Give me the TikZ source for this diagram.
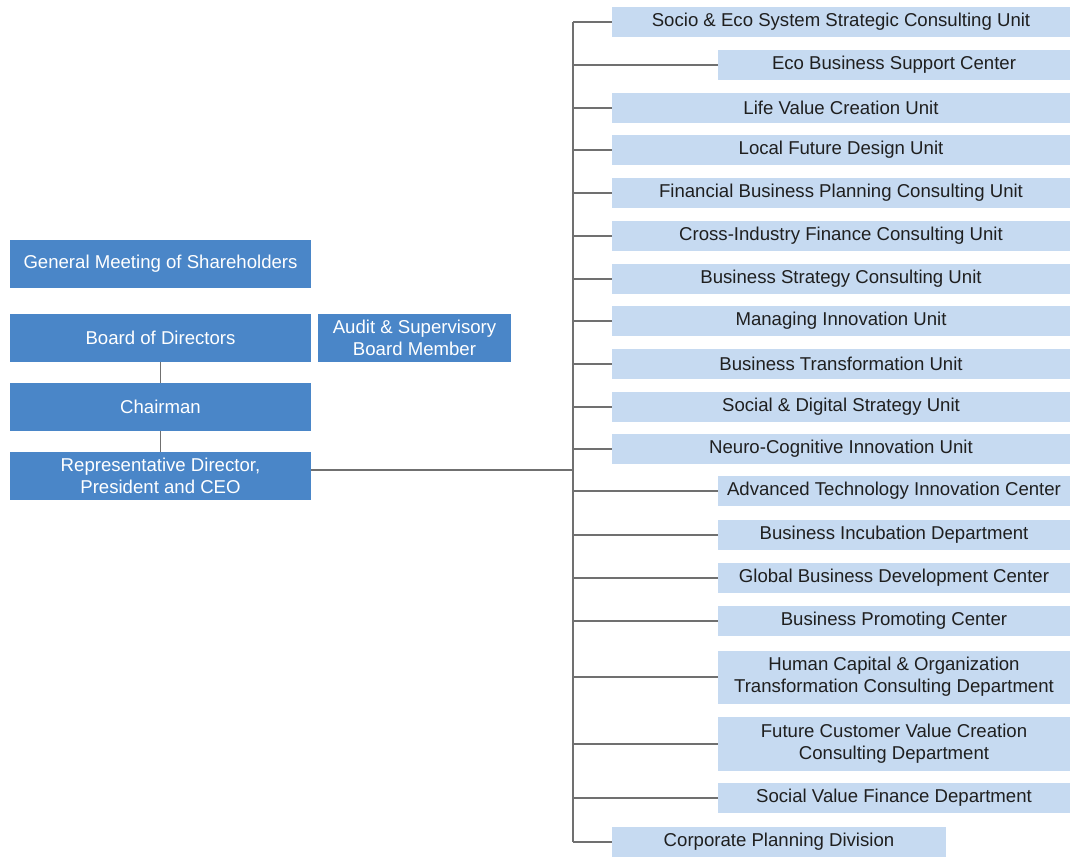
\documentclass[tikz,border=0pt]{standalone}
\usepackage{fontspec}
\setmainfont{Liberation Sans}
\usetikzlibrary{positioning}
\definecolor{orgblue}{RGB}{74,134,200}
\definecolor{unitblue}{RGB}{198,218,241}
\definecolor{linkgray}{RGB}{112,112,112}

\begin{document}
\begin{tikzpicture}[x=1pt,y=-1pt,font=\fontsize{18.6}{22}\selectfont,
  topbox/.style={fill=orgblue,text=white,minimum width=301pt,minimum height=48pt,inner sep=0pt,align=center},
  unit/.style={fill=unitblue,text=black!88,minimum height=30pt,inner sep=0pt,align=center},
  longunit/.style={unit,minimum width=458pt},
  shortunit/.style={unit,minimum width=352pt},
  link/.style={draw=linkgray,line width=1.1pt}]
  \useasboundingbox (0,0) rectangle (1070,857);
  % governance column
  \node[topbox] (gms) at (160.5,264) {General Meeting of Shareholders};
  \node[topbox] (board) at (160.5,338) {Board of Directors};
  \node[topbox,minimum width=193pt] (audit) at (414.5,338) {Audit \& Supervisory\\Board Member};
  \node[topbox] (chair) at (160.5,407) {Chairman};
  \node[topbox] (ceo) at (160.5,476) {Representative Director,\\President and CEO};
  \draw[link] (board) -- (chair);
  \draw[link] (chair) -- (ceo);
  % trunk
  \coordinate (trunktop) at (573,22);
  \coordinate (trunkbot) at (573,842);
  \draw[link] (trunktop) -- (trunkbot);
  \draw[link] ([yshift=6pt]ceo.east) -- ([yshift=6pt]ceo.east -| trunktop);
  % units
  \node[longunit] (socio) at (841,22) {Socio \& Eco System Strategic Consulting Unit};
  \node[shortunit] (ecobiz) at (894,65) {Eco Business Support Center};
  \node[longunit] (lifeval) at (841,108) {Life Value Creation Unit};
  \node[longunit] (localfut) at (841,150) {Local Future Design Unit};
  \node[longunit] (finplan) at (841,193) {Financial Business Planning Consulting Unit};
  \node[longunit] (crossind) at (841,236) {Cross-Industry Finance Consulting Unit};
  \node[longunit] (bizstrat) at (841,279) {Business Strategy Consulting Unit};
  \node[longunit] (manginno) at (841,321) {Managing Innovation Unit};
  \node[longunit] (biztrans) at (841,364) {Business Transformation Unit};
  \node[longunit] (socdig) at (841,407) {Social \& Digital Strategy Unit};
  \node[longunit] (neuro) at (841,449) {Neuro-Cognitive Innovation Unit};
  \node[shortunit] (advtech) at (894,491) {Advanced Technology Innovation Center};
  \node[shortunit] (incub) at (894,535) {Business Incubation Department};
  \node[shortunit] (globdev) at (894,578) {Global Business Development Center};
  \node[shortunit] (promo) at (894,621) {Business Promoting Center};
  \node[shortunit,minimum height=53pt] (humcap) at (894,677) {Human Capital \& Organization\\Transformation Consulting Department};
  \node[shortunit,minimum height=54pt] (futcust) at (894,744) {Future Customer Value Creation\\Consulting Department};
  \node[shortunit] (socfin) at (894,798) {Social Value Finance Department};
  \node[unit,minimum width=334pt] (corpplan) at (779,842) {Corporate Planning Division};
  \foreach \u in {socio,ecobiz,lifeval,localfut,finplan,crossind,bizstrat,manginno,biztrans,socdig,neuro,advtech,incub,globdev,promo,humcap,futcust,socfin,corpplan}
    \draw[link] (\u.west) -- (\u.west -| trunktop);
\end{tikzpicture}
\end{document}
